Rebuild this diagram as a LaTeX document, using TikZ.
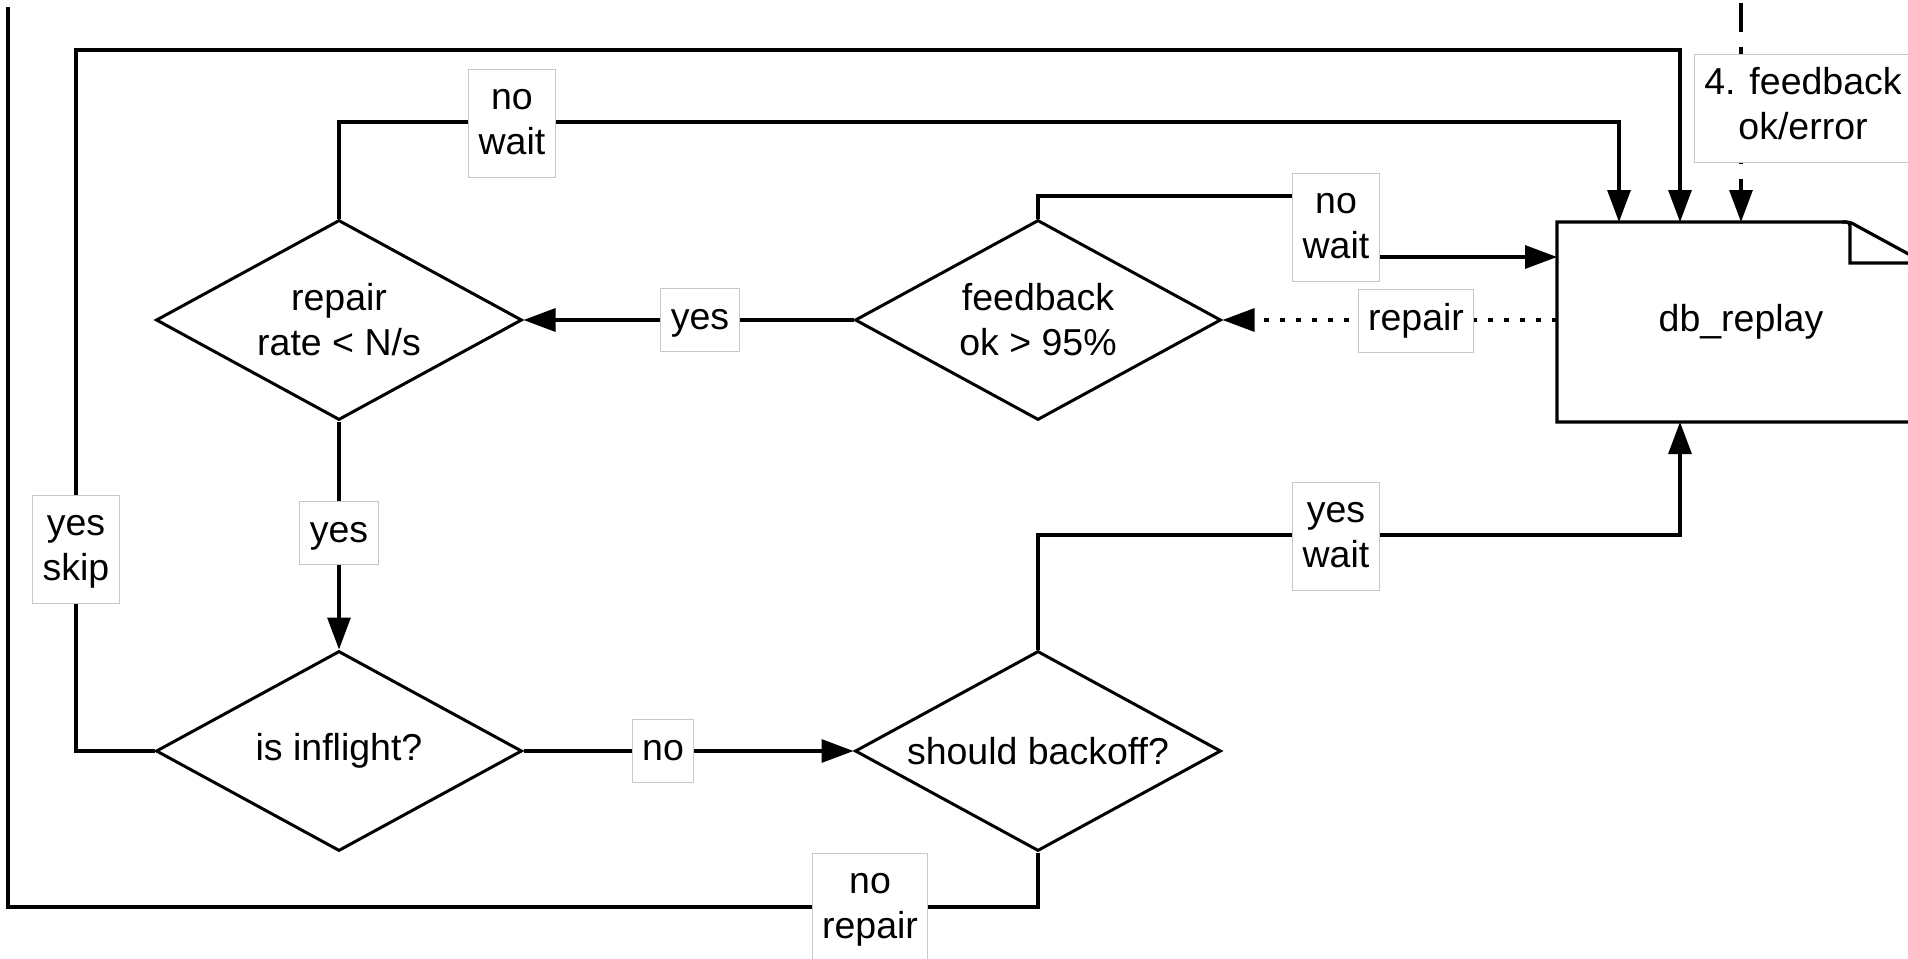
\documentclass[tikz,border=0pt]{standalone}
\usepackage{fontspec}
\setmainfont{Liberation Sans}
\usetikzlibrary{arrows.meta,shapes.geometric}
% two centred lines of equal height inside a label box
\newcommand\lbltwo[2]{\strut#1\\\strut#2}
\begin{document}
\begin{tikzpicture}[x=0.5pt, y=-0.5pt, line width=1.6pt,
  font=\fontsize{18.75pt}{22.5pt}\selectfont,
  tip/.style={-{Triangle[length=16pt,width=11.5pt]}},
  decision/.style={diamond, draw, line width=1.5pt, aspect=1.83,
    minimum width=183pt, minimum height=100pt, inner sep=0pt, align=center},
  lbl/.style={draw=black!22, line width=0.5pt, fill=white, inner xsep=5pt,
    inner ysep=4.5pt, align=center, execute at begin node=\strut},
  lbltwoline/.style={draw=black!22, line width=0.5pt, fill=white, inner xsep=5pt,
    inner ysep=4.5pt, align=center},
  dotline/.style={dash pattern=on 2.5pt off 5.5pt},
  dashline/.style={dash pattern=on 14.5pt off 7.5pt}]
\useasboundingbox (0,0) rectangle (1908,959);
\clip (0,0) rectangle (1908,959);

% decisions
\node[decision] (rep) at (339,320) {repair\\rate < N/s};
\node[decision] (fb)  at (1038,320) {feedback\\ok > 95\%};
\node[decision] (inf) at (339,751) {is inflight?};
\node[decision] (bo)  at (1038,751) {should backoff?};

% replay store (document with folded corner)
\node[minimum width=184pt, minimum height=100pt, inner sep=0pt, outer sep=0pt] (db) at (1741,322) {db\_replay};
\draw[line join=miter] (db.south west) -- (db.north west) -- (1842,222)
  .. controls (1850,222) .. (1857,226) -- (db.east |- 0,263) -- (db.south east) -- cycle;
\draw (1842,222) .. controls (1850,222) .. (1850,230) -- (1850,263) -- (db.east |- 0,263);

% routing corners
\coordinate (c1) at (1619,122);
\coordinate (c2) at (76,50);
\coordinate (c3) at (1680,50);
\coordinate (j1) at (1336,196);
\coordinate (j2) at (1336,257);
\coordinate (j3) at (1680,535);
\coordinate (c4) at (8,907);
\coordinate (c5) at (8,7);
\coordinate (c6) at (1741,3);

% connectors
\draw[tip] (fb.west) -- (rep.east);
\draw[tip, dotline] (fb.east -| db.west) -- (fb.east);
\draw[tip] (rep.south) -- (inf.north);
\draw[tip] (inf.east) -- (bo.west);
\draw[tip] (rep.north) |- (c1) -- (c1 |- db.north);
\draw[tip] (inf.west) -| (c2) -- (c3) -- (c3 |- db.north);
\draw[tip] (fb.north) |- (j1) -- (j2) -- (j2 -| db.west);
\draw[tip] (bo.north) |- (j3) -- (j3 |- db.south);
\draw (bo.south) |- (c4) -- (c5);
\draw[tip, dashline] (c6) -- (c6 |- db.north);

% connector labels
\node[lbltwoline] (l1) at (512,123) {\lbltwo{no}{wait}};
\node[lbltwoline] (l2) at (1336,227) {\lbltwo{no}{wait}};
\node[lbl] (l3) at (700,320) {yes};
\node[lbl] (l4) at (1416,321) {repair};
\node[lbl] (l5) at (339,533) {yes};
\node[lbltwoline] (l6) at (76,549) {\lbltwo{yes}{skip}};
\node[lbl] (l7) at (663,751) {no};
\node[lbltwoline] (l8) at (1336,536) {\lbltwo{yes}{wait}};
\node[lbltwoline] (l9) at (870,907) {\lbltwo{no}{repair}};
\node[lbltwoline] (l10) at (1803,108) {\lbltwo{4. feedback}{ok/error}};
\end{tikzpicture}
\end{document}
